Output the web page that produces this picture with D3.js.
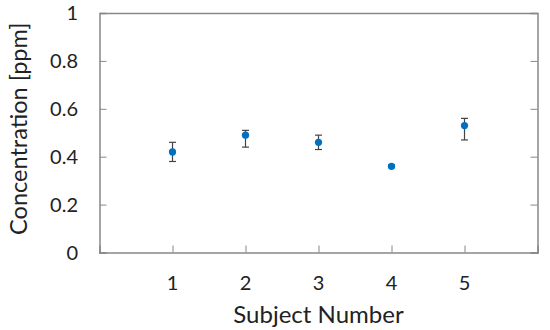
<!DOCTYPE html>
<html><head><meta charset="utf-8">
<script src="https://cdn.jsdelivr.net/npm/d3@7"></script>
<style>body{margin:0;background:#fff}svg{display:block}text{font-family:Lato,"Open Sans",sans-serif;fill:#222}</style>
</head><body>
<svg id="c" width="550" height="330"></svg>
<script>
const subjects = [1, 2, 3, 4, 5];
const means = [0.42, 0.49, 0.46, 0.36, 0.53];
const lower = [0.38, 0.44, 0.43, 0.354, 0.47];
const upper = [0.46, 0.51, 0.49, 0.366, 0.56];
const yTicks = [0, 0.2, 0.4, 0.6, 0.8, 1];
const yTickLabels = ["0", "0.2", "0.4", "0.6", "0.8", "1"];

const svg = d3.select("#c");
const m = {l: 99.5, r: 537.5, t: 13, b: 252.5};
const x = d3.scaleLinear().domain([0, 6]).range([m.l, m.r]);
const y = d3.scaleLinear().domain([0, 1]).range([m.b, m.t]);
const frame = "#888";

const axB = svg.append("g").attr("transform", `translate(0,${m.b})`)
  .call(d3.axisBottom(x).tickValues(subjects).tickSize(-7).tickFormat(""));
const axL = svg.append("g").attr("transform", `translate(${m.l},0)`)
  .call(d3.axisLeft(y).tickValues(yTicks).tickSize(-7).tickFormat(""));
const axR = svg.append("g").attr("transform", `translate(${m.r},0)`)
  .call(d3.axisRight(y).tickValues(yTicks).tickSize(-7).tickFormat(""));
const axT = svg.append("g").attr("transform", `translate(0,${m.t})`)
  .call(d3.axisTop(x).tickValues([]).tickSizeOuter(0));
[axB, axL, axR, axT].forEach(g => {
  g.selectAll("path").attr("stroke", frame).attr("stroke-width", 1.5);
  g.selectAll("line").attr("stroke", frame).attr("stroke-width", 1);
});

svg.append("g").selectAll("text").data(yTicks).join("text")
  .attr("x", 78).attr("y", d => y(d)).attr("dy", "0.35em")
  .attr("text-anchor", "end").attr("font-size", 20)
  .text((d, i) => yTickLabels[i]);
svg.append("g").selectAll("text").data(subjects).join("text")
  .attr("x", d => x(d)).attr("y", 283).attr("dy", "0.35em")
  .attr("text-anchor", "middle").attr("font-size", 20)
  .text(d => d);

svg.append("text").attr("x", (m.l + m.r) / 2).attr("y", 315).attr("dy", "0.35em")
  .attr("text-anchor", "middle").attr("font-size", 24).text("Subject Number");
svg.append("text").attr("transform", `translate(19,${(m.t + m.b) / 2 - 4}) rotate(-90)`)
  .attr("dy", "0.35em").attr("text-anchor", "middle").attr("font-size", 23.5)
  .text("Concentration [ppm]");

const eb = svg.append("g").attr("stroke-width", 1.2);
subjects.forEach((s, i) => {
  const cx = x(s);
  const col = (upper[i] - lower[i]) < 0.02 ? "#0070C0" : "#444";
  eb.append("line").attr("x1", cx).attr("x2", cx).attr("y1", y(lower[i])).attr("y2", y(upper[i])).attr("stroke", col);
  eb.append("line").attr("x1", cx - 3.5).attr("x2", cx + 3.5).attr("y1", y(lower[i])).attr("y2", y(lower[i])).attr("stroke", col);
  eb.append("line").attr("x1", cx - 3.5).attr("x2", cx + 3.5).attr("y1", y(upper[i])).attr("y2", y(upper[i])).attr("stroke", col);
});
svg.append("g").selectAll("circle").data(subjects).join("circle")
  .attr("cx", d => x(d)).attr("cy", (d, i) => y(means[i])).attr("r", 3.6)
  .attr("fill", "#0070C0");
</script>
</body></html>
